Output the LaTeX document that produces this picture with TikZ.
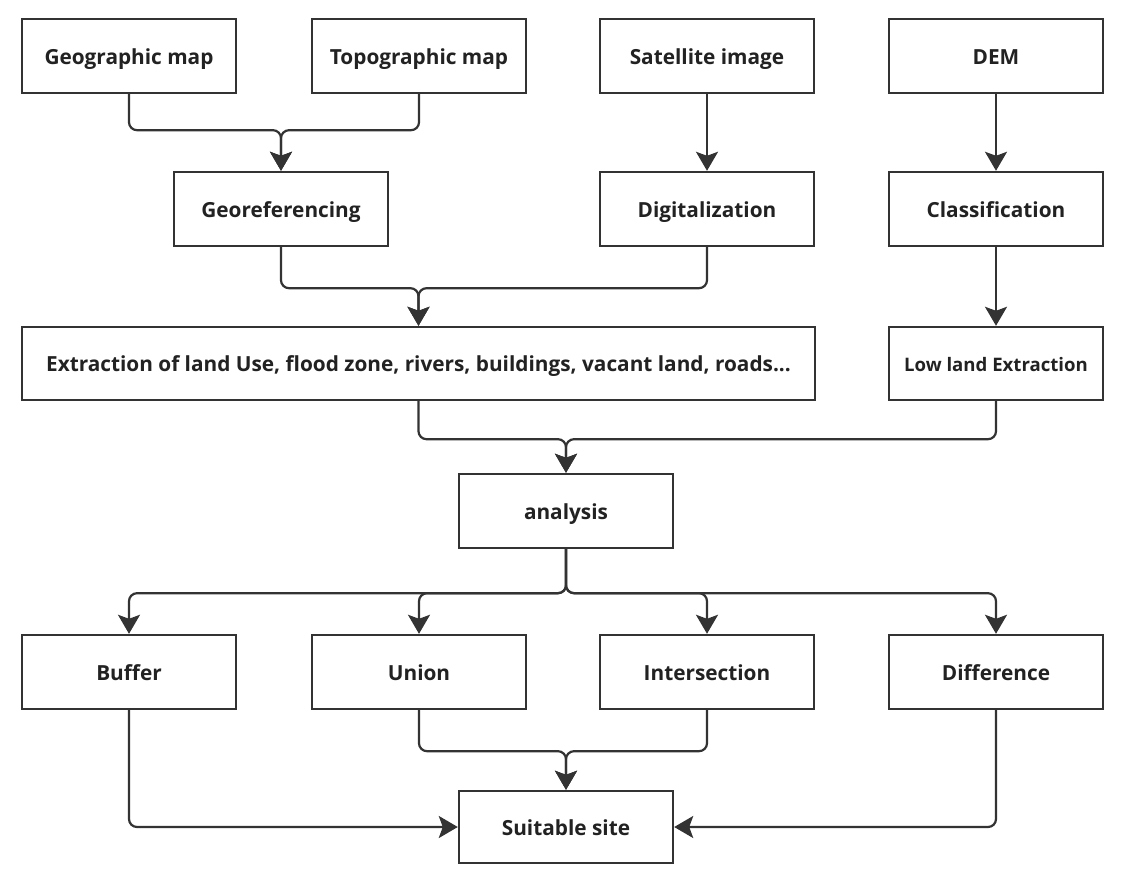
\documentclass[tikz,border=0pt]{standalone}
\usepackage{fontspec}
\setmainfont{Open Sans}[BoldFont={* Bold}]
\usetikzlibrary{arrows.meta}
\definecolor{ink}{HTML}{333333}
\definecolor{txt}{HTML}{222222}
\tikzset{
  box/.style={draw=ink, line width=2.4pt, fill=white, minimum width=214pt,
    minimum height=74pt, inner sep=0pt, text=txt, text height=17pt, text depth=1pt,
    font=\bfseries\fontsize{20.8}{25}\selectfont},
  link/.style={draw=ink, line width=2.2pt, rounded corners=8pt,
    -{Stealth[length=19pt,width=22pt,inset=4pt]}},
}
\begin{document}
\begin{tikzpicture}[x=1pt,y=-1pt]
  \useasboundingbox (0,0) rectangle (1127,886);
  % sources
  \node[box] (geo)  at (129,56)   {Geographic map};
  \node[box] (topo) at (419,56)   {Topographic map};
  \node[box] (sat)  at (707,56)   {Satellite image};
  \node[box] (dem)  at (996,56)   {DEM};
  % preprocessing
  \node[box] (georef) at (281,209) {Georeferencing};
  \node[box] (digit)  at (707,209) {Digitalization};
  \node[box] (class)  at (996,209) {Classification};
  % extraction
  \node[box, minimum width=793pt, minimum height=73pt] (extr) at (418.5,363.5)
    {Extraction of land Use, flood zone, rivers, buildings, vacant land, roads...};
  \node[box, minimum height=73pt, font=\bfseries\fontsize{18.6}{22}\selectfont] (low) at (996,363.5)
    {Low land Extraction};
  % analysis
  \node[box] (ana) at (566,511) {analysis};
  % operations
  \node[box] (buf)   at (129,672) {Buffer};
  \node[box] (union) at (419,672) {Union};
  \node[box] (inter) at (707,672) {Intersection};
  \node[box] (diff)  at (996,672) {Difference};
  % result
  \node[box, minimum height=72pt] (suit) at (566,827) {Suitable site};

  % maps merge into georeferencing
  \draw[link] (geo.south)  -- ++(0,36) -| (georef.north);
  \draw[link] (topo.south) -- ++(0,36) -| (georef.north);
  % straight steps
  \draw[link] (sat.south) -- (digit.north);
  \draw[link] (dem.south) -- (class.north);
  \draw[link] (class.south) -- (low.north);
  % into the extraction box
  \draw[link] (georef.south) -- ++(0,41) -| (extr.north);
  \draw[link] (digit.south)  -- ++(0,41) -| (extr.north);
  % into analysis
  \draw[link] (extr.south) -- ++(0,38) -| (ana.north);
  \draw[link] (low.south)  -- ++(0,38) -| (ana.north);
  % analysis fans out
  \draw[link] (ana.south) -- ++(0,44) -| (buf.north);
  \draw[link] (ana.south) -- ++(0,44) -| (union.north);
  \draw[link] (ana.south) -- ++(0,44) -| (inter.north);
  \draw[link] (ana.south) -- ++(0,44) -| (diff.north);
  % into the result
  \draw[link] (union.south) -- ++(0,41) -| (suit.north);
  \draw[link] (inter.south) -- ++(0,41) -| (suit.north);
  \draw[link] (buf.south)  |- (suit.west);
  \draw[link] (diff.south) |- (suit.east);
\end{tikzpicture}
\end{document}
